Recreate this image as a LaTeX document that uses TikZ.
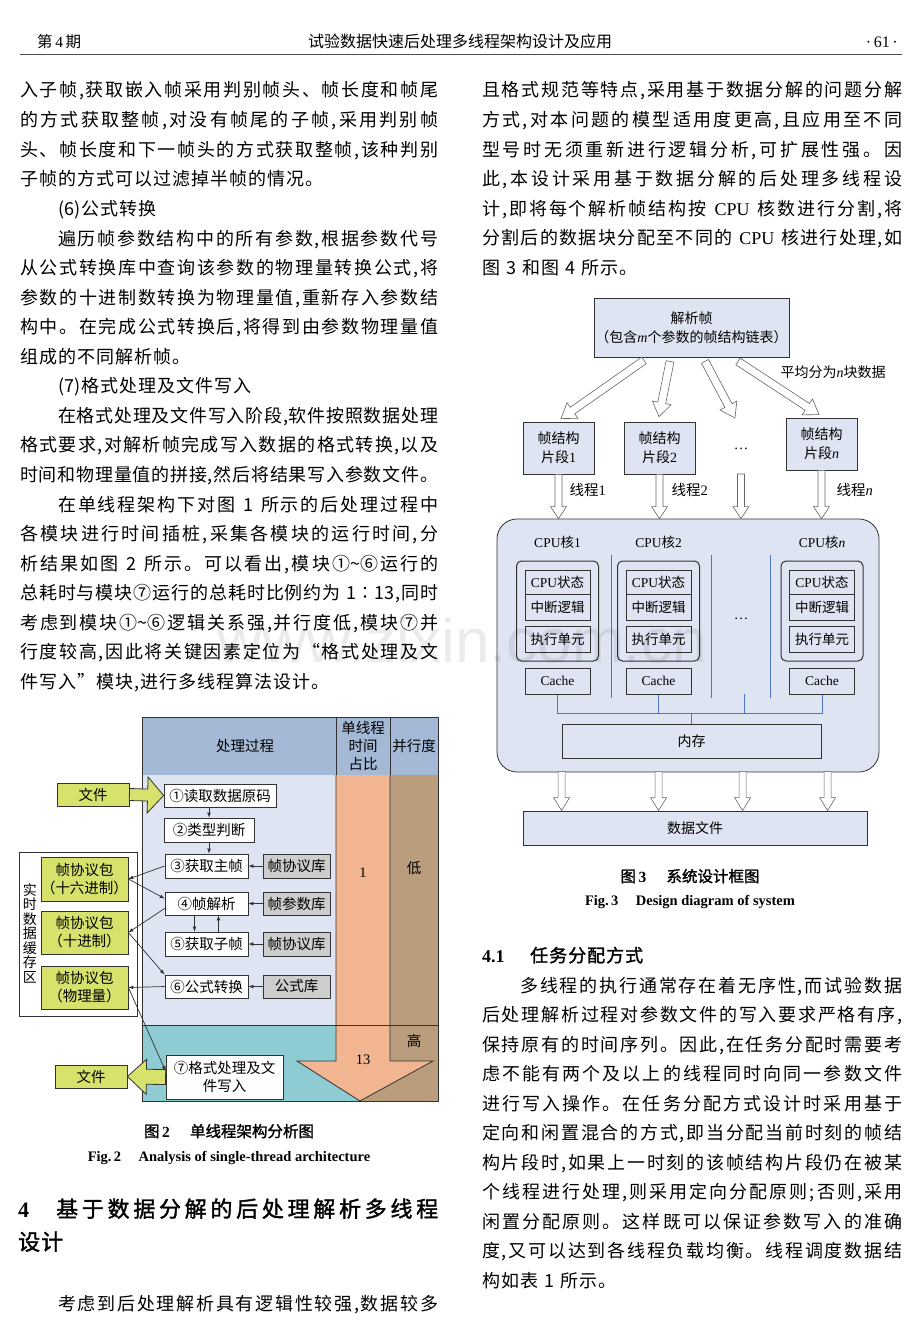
\documentclass[tikz,border=0pt]{standalone}
\usepackage{fontspec}
\setmainfont{Liberation Serif}
\newfontfamily\cjk{Noto Sans CJK SC}
\newfontfamily\cjkbf[FakeBold=1.5]{Noto Sans CJK SC}
\newfontfamily\en{Liberation Serif}
\newfontfamily\wmfont{Liberation Sans}
\usepackage{tikz}
\usetikzlibrary{arrows,calc,positioning}

\definecolor{hdrblue}{RGB}{164,185,214}
\definecolor{procbg}{RGB}{222,228,241}
\definecolor{lowteal}{RGB}{142,203,211}
\definecolor{salmon}{RGB}{242,181,145}
\definecolor{brownc}{RGB}{185,157,124}
\definecolor{ygreen}{RGB}{215,226,108}
\definecolor{libgray}{RGB}{205,205,205}
\definecolor{sysfill}{RGB}{222,228,241}
\definecolor{busblue}{RGB}{72,118,196}
\definecolor{inkline}{RGB}{50,50,50}

% spread the characters of one text line
\makeatletter
\newcommand\spreadtext[1]{\@tfor\sp@tok:=#1\do{{\sp@tok}\hskip 1pt plus 1fil minus 1pt}\unskip}
\makeatother
\newcommand\fline[5]{\node[body] (#1) at (#2,#3) {\hbox to #4pt{\spreadtext{#5}}};}
\newcommand\sline[4]{\node[body] (#1) at (#2,#3) {\hbox{\spreadtext{#4}}};}

% block arrow between two points
\newcommand\fatarrow[6][]{%
  \draw[#1] let \p1=#2, \p2=#3, \n1={atan2(\y2-\y1,\x2-\x1)}, \n2={veclen(\x2-\x1,\y2-\y1)} in
    [shift={(\p1)}, rotate=\n1]
    (0pt,#4pt) -- ({\n2*1pt-#6pt},#4pt) -- ({\n2*1pt-#6pt},#5pt) -- ({\n2*1pt},0pt)
    -- ({\n2*1pt-#6pt},-#5pt) -- ({\n2*1pt-#6pt},-#4pt) -- (0pt,-#4pt) -- cycle;}

\tikzset{
  body/.style={anchor=base west, inner sep=0pt, font=\cjk\fontsize{18}{18}\selectfont},
  head/.style={anchor=base west, inner sep=0pt},
  figtext/.style={font=\cjk\fontsize{14.5}{18}\selectfont},
  tbox/.style={draw=inkline, line width=0.8pt, inner sep=0pt, align=center, figtext},
  pbox/.style={tbox, fill=white},
  libbox/.style={tbox, fill=libgray},
  pkt/.style={tbox, fill=ygreen},
  yarrow/.style={fill=ygreen, draw=inkline, line width=0.8pt},
  arr/.style={-latex, line width=0.7pt, draw=inkline},
  sysbox/.style={draw=inkline, line width=0.8pt, fill=sysfill, inner sep=0pt, align=center, font=\cjk\fontsize{14}{19}\selectfont},
  unit/.style={sysbox, line width=1pt, font=\cjk\fontsize{13.5}{16}\selectfont},
  hollow/.style={fill=white, draw=black!60, line width=0.6pt},
  bus/.style={draw=busblue, line width=0.8pt},
}

\begin{document}
\begin{tikzpicture}[x=1pt, y=-1pt]
\useasboundingbox (0,0) rectangle (920,1331);
\fill[white] (0,0) rectangle (920,1331);

% running head
\node[head, font=\cjk\fontsize{15.5}{16}\selectfont] (rhl) at (37,47) {第{\en\,4\,}期};
\node[head, anchor=base, font=\cjk\fontsize{16}{16}\selectfont] (rhc) at (460,47) {试验数据快速后处理多线程架构设计及应用};
\node[head, anchor=base east, font=\en\fontsize{16}{16}\selectfont] (rhr) at (898,47) {·\,61\,·};
\draw[line width=0.8pt, black!70] (20,54) -- (902,54);

% left column
\fline{la1}{20}{96}{418}{入子帧,获取嵌入帧采用判别帧头、帧长度和帧尾}
\fline{la2}{20}{126}{418}{的方式获取整帧,对没有帧尾的子帧,采用判别帧}
\fline{la3}{20}{156}{418}{头、帧长度和下一帧头的方式获取整帧,该种判别}
\sline{la4}{20}{185}{子帧的方式可以过滤掉半帧的情况。}
\sline{la5}{58}{215}{{(6)}公式转换}
\fline{la6}{58}{245}{380}{遍历帧参数结构中的所有参数,根据参数代号}
\fline{la7}{20}{274}{418}{从公式转换库中查询该参数的物理量转换公式,将}
\fline{la8}{20}{304}{418}{参数的十进制数转换为物理量值,重新存入参数结}
\fline{la9}{20}{333}{418}{构中。在完成公式转换后,将得到由参数物理量值}
\sline{la10}{20}{363}{组成的不同解析帧。}
\sline{la11}{58}{392}{{(7)}格式处理及文件写入}
\fline{la12}{58}{422}{380}{在格式处理及文件写入阶段,软件按照数据处理}
\fline{la13}{20}{451}{418}{格式要求,对解析帧完成写入数据的格式转换,以及}
\fline{la14}{20}{481}{418}{时间和物理量值的拼接,然后将结果写入参数文件。}
\fline{la15}{58}{511}{380}{在单线程架构下对图~1~所示的后处理过程中}
\fline{la16}{20}{540}{418}{各模块进行时间插桩,采集各模块的运行时间,分}
\fline{la17}{20}{570}{418}{析结果如图~2~所示。可以看出,模块{①\textasciitilde⑥}运行的}
\fline{la18}{20}{599}{418}{总耗时与模块⑦运行的总耗时比例约为~{1∶13},同时}
\fline{la19}{20}{629}{418}{考虑到模块{①\textasciitilde⑥}逻辑关系强,并行度低,模块⑦并}
\fline{la20}{20}{658}{418}{行度较高,因此将关键因素定位为“格式处理及文}
\sline{la21}{20}{688}{件写入”模块,进行多线程算法设计。}

% right column
\fline{ra1}{482}{96}{420}{且格式规范等特点,采用基于数据分解的问题分解}
\fline{ra2}{482}{126}{420}{方式,对本问题的模型适用度更高,且应用至不同}
\fline{ra3}{482}{156}{420}{型号时无须重新进行逻辑分析,可扩展性强。因}
\fline{ra4}{482}{185}{420}{此,本设计采用基于数据分解的后处理多线程设}
\fline{ra5}{482}{215}{420}{计,即将每个解析帧结构按~{\en CPU}~核数进行分割,将}
\fline{ra6}{482}{244}{420}{分割后的数据块分配至不同的~{\en CPU}~核进行处理,如}
\sline{ra7}{482}{274}{图~3~和图~4~所示。}

% Fig. 2
\node[tbox, fill=hdrblue, minimum width=194pt, minimum height=58pt] (hproc) at (239,746) {\hspace{12pt}处理过程};
\node[tbox, fill=hdrblue, minimum width=54pt, minimum height=58pt] (htime) at (363,746) {单线程\\时间\\占比};
\node[tbox, fill=hdrblue, minimum width=48pt, minimum height=58pt] (hpar) at (414,746) {并行度};
\fill[procbg] (142,775) rectangle (336,1025);
\fill[lowteal] (142,1025) rectangle (360,1101);
\fill[brownc] (390,775) rectangle (438,1025);
\fill[brownc] (360,1025) rectangle (438,1101);
\filldraw[fill=salmon, draw=inkline, line width=0.8pt] (336,775) -- (336,1061) -- (297,1061) -- (360,1101) -- (433,1061) -- (390,1061) -- (390,775);
\draw[inkline, line width=0.8pt] (142,775) -- (142,1101) -- (438,1101) -- (438,775);
\draw[inkline, line width=0.8pt] (142,1025) -- (438,1025);
\node[figtext] (v1) at (363,873) {\en 1};
\node[figtext] (vlow) at (414,868) {低};
\node[figtext] (vhigh) at (414,1041) {高};
\node[figtext] (v13) at (363,1060) {\en 13};

\node[pbox, minimum width=112pt, minimum height=23pt] (p1) at (220,795.5) {①读取数据原码};
\node[pbox, minimum width=90pt, minimum height=24pt] (p2) at (209,830) {②类型判断};
\node[pbox, minimum width=83pt, minimum height=24pt] (p3) at (206.5,866) {③获取主帧};
\node[pbox, minimum width=83pt, minimum height=23pt] (p4) at (206.5,903.5) {④帧解析};
\node[pbox, minimum width=83pt, minimum height=24pt] (p5) at (206.5,944) {⑤获取子帧};
\node[pbox, minimum width=83pt, minimum height=23pt] (p6) at (206.5,986.5) {⑥公式转换};
\node[pbox, minimum width=117pt, minimum height=44pt] (p7) at (224.5,1077) {⑦格式处理及文\\件写入};
\node[libbox, minimum width=67pt, minimum height=24pt] (l3) at (296.5,866) {帧协议库};
\node[libbox, minimum width=67pt, minimum height=23pt] (l4) at (296.5,903.5) {帧参数库};
\node[libbox, minimum width=67pt, minimum height=24pt] (l5) at (296.5,944) {帧协议库};
\node[libbox, minimum width=67pt, minimum height=23pt] (l6) at (296.5,986.5) {公式库};

\node[pkt, minimum width=72pt, minimum height=23pt] (fin) at (93,794.5) {文件};
\node[pkt, minimum width=72pt, minimum height=23pt] (fout) at (91,1076.5) {文件};
\node[tbox, fill=white, minimum width=118pt, minimum height=164pt] (buf) at (78,934) {};
\node[figtext, align=center, font=\cjk\fontsize{14}{14.5}\selectfont] (buflab) at (30,933) {实\\时\\数\\据\\缓\\存\\区};
\node[pkt, minimum width=87pt, minimum height=44pt] (hex) at (84.5,879) {帧协议包\\（十六进制）};
\node[pkt, minimum width=87pt, minimum height=43pt] (dec) at (84.5,932.5) {帧协议包\\（十进制）};
\node[pkt, minimum width=87pt, minimum height=43pt] (phy) at (84.5,987.5) {帧协议包\\（物理量）};

\fatarrow[yarrow]{(fin.east)}{(p1.west)}{6}{18}{16}
\fatarrow[yarrow]{(p7.west)}{(fout.east)}{7.5}{17.5}{19}

\draw[arr] (p1.south -| p2.north) -- (p2.north);
\draw[arr] (p2.south) -- (p2.south |- p3.north);
\draw[arr] ([xshift=-12pt]p4.south) -- ([xshift=-12pt]p5.north);
\draw[arr] ([xshift=12pt]p5.north) -- ([xshift=12pt]p4.south);
\foreach \i in {3,4,5,6}
  \draw[arr] (l\i.west) -- (p\i.east);
\draw[arr] (p3.west) -- (hex.east);
\draw[arr] (hex.east) -- ([yshift=5pt]p4.west);
\draw[arr] ([yshift=-5pt]p4.west) -- (dec.east);
\draw[arr] (dec.east) -- (p6.north west);
\draw[arr] (p6.west) -- (phy.east);
\draw[arr] (phy.east) -- ([yshift=6pt]p7.west);

\node[head, anchor=base, font=\cjkbf\fontsize{15.5}{16}\selectfont] (cap2) at (229,1137) {图\,{\en\bfseries 2}\hspace{1.3em}单线程架构分析图};
\node[head, anchor=base, font=\en\bfseries\fontsize{14.5}{16}\selectfont] (cap2e) at (229,1161) {Fig.\,2\hspace{1.2em}Analysis of single-thread architecture};

% section 4
\node[head, font=\en\bfseries\fontsize{22}{22}\selectfont] (s4n) at (18,1217) {4};
\node[head, font=\cjkbf\fontsize{22}{22}\selectfont] (s4t) at (56,1217) {\hbox to 382pt{\spreadtext{基于数据分解的后处理解析多线程}}};
\node[head, font=\cjkbf\fontsize{22}{22}\selectfont] (s4t2) at (18,1250) {\hbox{\spreadtext{设计}}};
\fline{lb1}{58}{1310}{380}{考虑到后处理解析具有逻辑性较强,数据较多}

% Fig. 3
\node[sysbox, minimum width=195pt, minimum height=59pt] (parse) at (691.5,327.5) {解析帧\\（包含{\en\itshape m}个参数的帧结构链表）};
\node[sysbox, minimum width=71pt, minimum height=52pt] (seg1) at (558.5,448) {帧结构\\片段{\en 1}};
\node[sysbox, minimum width=71pt, minimum height=52pt] (seg2) at (659.5,448) {帧结构\\片段{\en 2}};
\node[figtext] (dots1) at (741,449) {\en\textellipsis};
\node[sysbox, minimum width=71pt, minimum height=52pt] (segn) at (821.5,444) {帧结构\\片段{\en\itshape n}};
\node[figtext, anchor=west, font=\cjk\fontsize{14}{16}\selectfont] (avg) at (777,372) {平均分为{\en\itshape n}块数据};

\fatarrow[hollow]{($(parse.south)+(-47.5,3)$)}{($(seg1.north)+(2.5,-3)$)}{4}{9.5}{14}
\fatarrow[hollow]{($(parse.south)+(-21.5,4)$)}{($(seg2.north)+(-0.5,-5)$)}{4}{9.5}{14}
\fatarrow[hollow]{($(parse.south)+(13.5,4)$)}{($(dots1)+(-6,-31)$)}{4}{9.5}{14}
\fatarrow[hollow]{($(parse.south)+(46.5,4)$)}{($(segn.north)+(-2.5,-3)$)}{4}{9.5}{14}

\node[sysbox, rounded corners=20pt, minimum width=382pt, minimum height=253pt] (big) at (688,645.5) {};
\fatarrow[hollow]{(seg1.south)}{(seg1.south |- big.north)}{3.5}{8}{12}
\fatarrow[hollow]{(seg2.south)}{(seg2.south |- big.north)}{3.5}{8}{12}
\fatarrow[hollow]{($(dots1)+(0,25)$)}{(dots1 |- big.north)}{3.5}{8}{12}
\fatarrow[hollow]{(segn.south)}{(segn.south |- big.north)}{3.5}{8}{12}
\node[figtext, anchor=west] (th1) at (566,490) {线程{\en 1}};
\node[figtext, anchor=west] (th2) at (668,490) {线程{\en 2}};
\node[figtext, anchor=west] (thn) at (833,490) {线程{\en\itshape n}};

\foreach \k/\cx/\lab in {1/557.5/1, 2/658.5/2, n/822/\itshape n} {
  \node[figtext, font=\cjk\fontsize{13.5}{16}\selectfont] (cl\k) at (\cx,542) {{\en CPU}核{\en\lab}};
  \node[sysbox, rounded corners=5pt, line width=1pt, minimum width=82pt, minimum height=100pt] (core\k) at (\cx,611) {};
  \node[unit, minimum width=65pt, minimum height=24pt] (st\k) at (\cx,582) {{\en CPU}状态};
  \node[unit, minimum width=65pt, minimum height=26pt] (it\k) at (\cx,607) {中断逻辑};
  \node[unit, minimum width=65pt, minimum height=26pt] (ex\k) at (\cx,639) {执行单元};
  \node[unit, minimum width=65pt, minimum height=26pt] (cache\k) at (\cx,681) {\en Cache};
}
\node[figtext] (dots2) at (741,619) {\en\textellipsis};
\foreach \x in {611,711,770}
  \draw[bus] (\x,555) -- (\x,698);
\node[sysbox, minimum width=259pt, minimum height=34pt] (mem) at (691.5,741) {内存};
\draw[bus] (cache1.south) -- ($(cache1.south)+(0,19)$) -| (cachen.south);
\draw[bus] (cache2.south) -- ($(cache2.south)+(0,19)$);
\draw[bus] ($(dots2)+(3,75)$) -- ($(dots2)+(3,94)$);
\draw[bus] (mem.north) -- ($(mem.north)+(0,-11)$);

\node[sysbox, minimum width=344pt, minimum height=34pt] (file) at (695,828) {数据文件};
\foreach \dx in {39,136,220,305} {
  \fatarrow[hollow]{($(file.north west)+(\dx,-39)$)}{($(file.north west)+(\dx,0)$)}{3.5}{8}{13}
}

\node[head, anchor=base, font=\cjkbf\fontsize{15.5}{16}\selectfont] (cap3) at (690,882) {图\,{\en\bfseries 3}\hspace{1.3em}系统设计框图};
\node[head, anchor=base, font=\en\bfseries\fontsize{14.5}{16}\selectfont] (cap3e) at (690,905) {Fig.\,3\hspace{1.2em}Design diagram of system};

% section 4.1
\node[head, font=\en\bfseries\fontsize{18}{18}\selectfont] (s41n) at (482,962) {4.1};
\node[head, font=\cjkbf\fontsize{18}{18}\selectfont] (s41t) at (530,962) {\hbox{\spreadtext{任务分配方式}}};
\fline{rb1}{520}{992}{382}{多线程的执行通常存在着无序性,而试验数据}
\fline{rb2}{482}{1021}{420}{后处理解析过程对参数文件的写入要求严格有序,}
\fline{rb3}{482}{1051}{420}{保持原有的时间序列。因此,在任务分配时需要考}
\fline{rb4}{482}{1080}{420}{虑不能有两个及以上的线程同时向同一参数文件}
\fline{rb5}{482}{1110}{420}{进行写入操作。在任务分配方式设计时采用基于}
\fline{rb6}{482}{1139}{420}{定向和闲置混合的方式,即当分配当前时刻的帧结}
\fline{rb7}{482}{1169}{420}{构片段时,如果上一时刻的该帧结构片段仍在被某}
\fline{rb8}{482}{1198}{420}{个线程进行处理,则采用定向分配原则;否则,采用}
\fline{rb9}{482}{1228}{420}{闲置分配原则。这样既可以保证参数写入的准确}
\fline{rb10}{482}{1257}{420}{度,又可以达到各线程负载均衡。线程调度数据结}
\sline{rb11}{482}{1287}{构如表~1~所示。}

% watermark
\node[opacity=0.08, font=\wmfont\fontsize{62}{62}\selectfont] (wm) at (462,640) {www.zixin.com.cn};
\end{tikzpicture}
\end{document}
